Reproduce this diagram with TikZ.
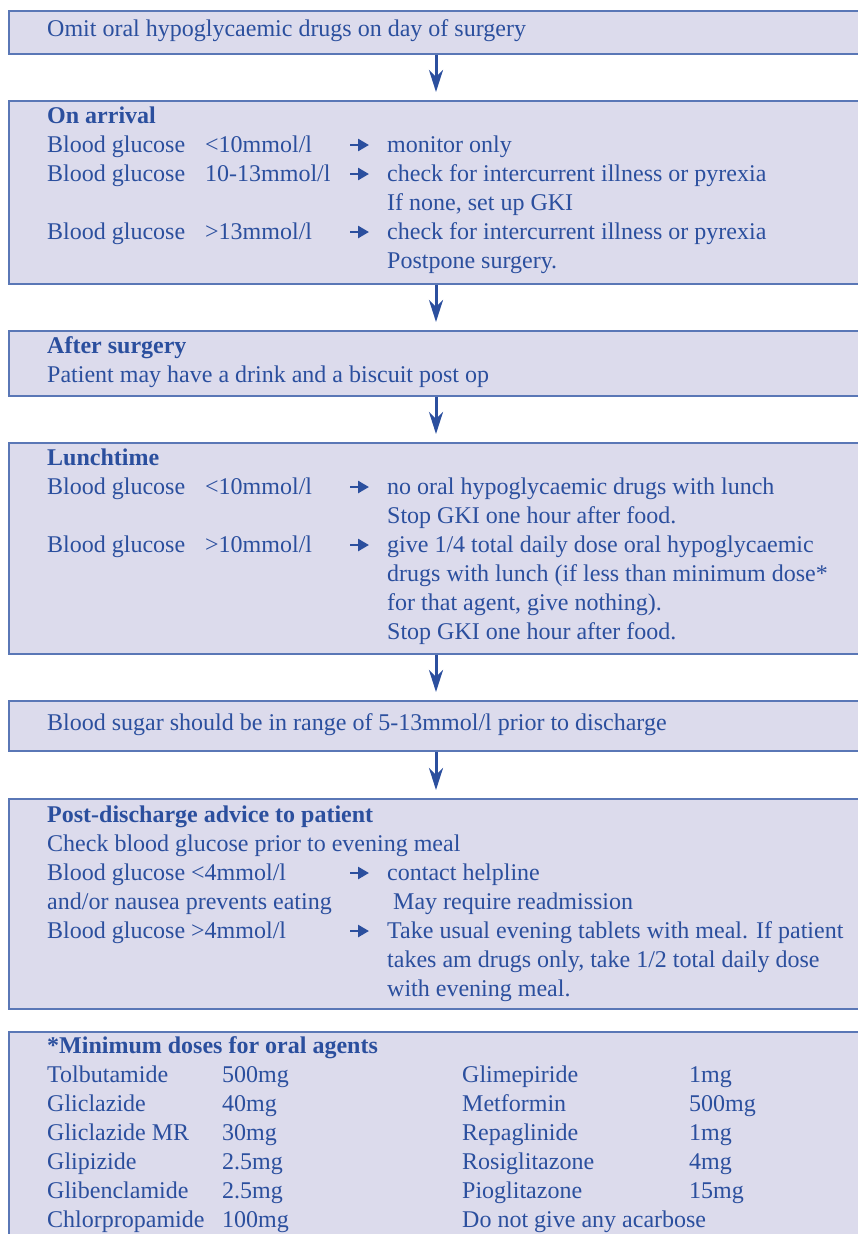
\documentclass[tikz,border=0pt]{standalone}
\usepackage{fontspec}
\setmainfont{Liberation Serif}
\usetikzlibrary{arrows.meta}
\definecolor{boxfill}{HTML}{DCDBEC}
\definecolor{boxline}{HTML}{5A77B6}
\definecolor{ink}{HTML}{2B4F9E}
\newcount\tcnt
\newcommand\T[3]{\global\advance\tcnt by 1\relax\node[txt] (t\the\tcnt) at (#1,-#2) {#3};}
\newcommand\HA[1]{\draw[harrow] (350,-#1+7) -- (369,-#1+7);}
\tikzset{
  box/.style={draw=boxline, line width=2pt, fill=boxfill, anchor=north west, minimum width=870pt, inner sep=0pt},
  txt/.style={anchor=base west, inner sep=0pt, text=ink, font=\fontsize{24}{28.8}\selectfont},
  flow/.style={draw=ink, line width=3pt, -{Stealth[length=22pt,width=14pt,inset=7pt]}},
  harrow/.style={draw=ink, line width=2.6pt, -{Triangle[length=11pt,width=12pt]}}
}
\begin{document}
\begin{tikzpicture}[x=1pt,y=1pt]
\useasboundingbox (0,0) rectangle (858,-1234);
% boxes
\node[box, minimum height=43pt] (b1) at (8,-10) {};
\node[box, minimum height=183pt] (b2) at (8,-100) {};
\node[box, minimum height=65pt] (b3) at (8,-330) {};
\node[box, minimum height=211pt] (b4) at (8,-442) {};
\node[box, minimum height=50pt] (b5) at (8,-700) {};
\node[box, minimum height=210pt] (b6) at (8,-798) {};
\node[box, minimum height=240pt] (b7) at (8,-1031) {};
% flow arrows
\draw[flow] ([xshift=428pt]b1.south west) -- ([xshift=428pt,yshift=8pt]b2.north west);
\draw[flow] ([xshift=428pt]b2.south west) -- ([xshift=428pt,yshift=8pt]b3.north west);
\draw[flow] ([xshift=428pt]b3.south west) -- ([xshift=428pt,yshift=8pt]b4.north west);
\draw[flow] ([xshift=428pt]b4.south west) -- ([xshift=428pt,yshift=8pt]b5.north west);
\draw[flow] ([xshift=428pt]b5.south west) -- ([xshift=428pt,yshift=8pt]b6.north west);
% box 1
\T{47}{36}{Omit oral hypoglycaemic drugs on day of surgery}
% box 2
\T{47}{123}{\textbf{On arrival}}
\T{47}{152}{Blood glucose}\T{205}{152}{<10mmol/l}\HA{152}\T{387}{152}{monitor only}
\T{47}{181}{Blood glucose}\T{205}{181}{10-13mmol/l}\HA{181}\T{387}{181}{check for intercurrent illness or pyrexia}
\T{387}{210}{If none, set up GKI}
\T{47}{239}{Blood glucose}\T{205}{239}{>13mmol/l}\HA{239}\T{387}{239}{check for intercurrent illness or pyrexia}
\T{387}{268}{Postpone surgery.}
% box 3
\T{47}{353}{\textbf{After surgery}}
\T{47}{382}{Patient may have a drink and a biscuit post op}
% box 4
\T{47}{465}{\textbf{Lunchtime}}
\T{47}{494}{Blood glucose}\T{205}{494}{<10mmol/l}\HA{494}\T{387}{494}{no oral hypoglycaemic drugs with lunch}
\T{387}{523}{Stop GKI one hour after food.}
\T{47}{552}{Blood glucose}\T{205}{552}{>10mmol/l}\HA{552}\T{387}{552}{give 1/4 total daily dose oral hypoglycaemic}
\T{387}{581}{drugs with lunch (if less than minimum dose*}
\T{387}{610}{for that agent, give nothing).}
\T{387}{639}{Stop GKI one hour after food.}
% box 5
\T{47}{730}{Blood sugar should be in range of 5-13mmol/l prior to discharge}
% box 6
\T{47}{822}{\textbf{Post-discharge advice to patient}}
\T{47}{851}{Check blood glucose prior to evening meal}
\T{47}{880}{Blood glucose <4mmol/l}\HA{880}\T{387}{880}{contact helpline}
\T{47}{909}{and/or nausea prevents eating}\T{393}{909}{May require readmission}
\T{47}{938}{Blood glucose >4mmol/l}\HA{938}\T{387}{938}{Take usual evening tablets with meal. If patient}
\T{387}{967}{takes am drugs only, take 1/2 total daily dose}
\T{387}{996}{with evening meal.}
% box 7
\T{47}{1053}{\textbf{*Minimum doses for oral agents}}
\T{47}{1082}{Tolbutamide}\T{222}{1082}{500mg}\T{462}{1082}{Glimepiride}\T{689}{1082}{1mg}
\T{47}{1111}{Gliclazide}\T{222}{1111}{40mg}\T{462}{1111}{Metformin}\T{689}{1111}{500mg}
\T{47}{1140}{Gliclazide MR}\T{222}{1140}{30mg}\T{462}{1140}{Repaglinide}\T{689}{1140}{1mg}
\T{47}{1169}{Glipizide}\T{222}{1169}{2.5mg}\T{462}{1169}{Rosiglitazone}\T{689}{1169}{4mg}
\T{47}{1198}{Glibenclamide}\T{222}{1198}{2.5mg}\T{462}{1198}{Pioglitazone}\T{689}{1198}{15mg}
\T{47}{1227}{Chlorpropamide}\T{222}{1227}{100mg}\T{462}{1227}{Do not give any acarbose}
\end{tikzpicture}
\end{document}
